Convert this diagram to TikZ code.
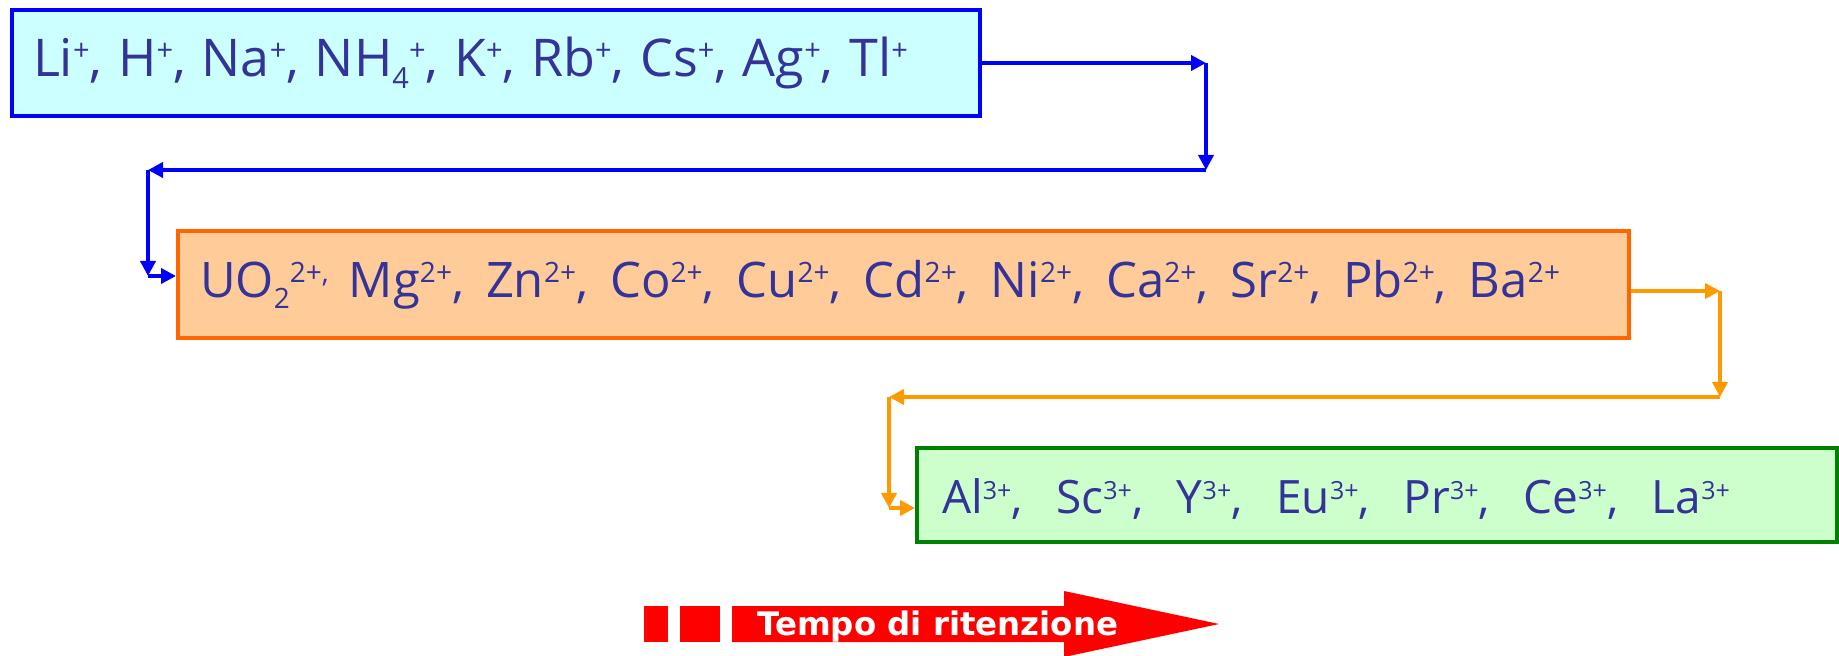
\documentclass[tikz,border=0pt]{standalone}
\usepackage{fontspec}
\setmainfont{Open Sans}
\newfontfamily\tempofont{DejaVu Sans}
\usetikzlibrary{arrows.meta}
\definecolor{txtblue}{HTML}{333399}
\definecolor{lineblue}{HTML}{0000FF}
\definecolor{fillcyan}{HTML}{CCFFFF}
\definecolor{orangeborder}{HTML}{FF6600}
\definecolor{orangefill}{HTML}{FFCC99}
\definecolor{orangeline}{HTML}{FF9900}
\definecolor{greenborder}{HTML}{008000}
\definecolor{greenfill}{HTML}{CCFFCC}
\definecolor{redarrow}{HTML}{FF0000}
\def\supsz{13}\def\suprise{7.8pt}\def\subsz{14}\def\subdrop{-5.5pt}
\newcommand{\sps}[1]{\raisebox{\suprise}{\fontsize{\supsz}{\supsz}\selectfont #1}}
\newcommand{\sbs}[1]{\raisebox{\subdrop}{\fontsize{\subsz}{\subsz}\selectfont #1}}
% content: box width, text width, height, depth, text
\newcommand{\iontext}[5]{\makebox[#1][l]{\raisebox{0pt}[#3][#4]{\makebox[#2][s]{#5}}}}
\begin{document}
\begin{tikzpicture}[x=0.5pt,y=-0.5pt,
  ionbox/.style={draw, line width=2pt, rectangle, text=txtblue, inner ysep=0pt},
  link/.style={line width=2.2pt, -{Triangle[length=7.5pt,width=7.5pt]}},
]
\useasboundingbox (0,0) rectangle (1839,656);

\node[ionbox, draw=lineblue, fill=fillcyan, minimum width=484pt, minimum height=53pt,
  inner xsep=10.5pt,
  font=\fontsize{26}{30}\selectfont\def\supsz{14.5}\def\suprise{7.8pt}\def\subsz{14.5}\def\subdrop{-5.8pt}] (b1) at (496,63)
  {\iontext{463pt}{437.5pt}{20pt}{6.5pt}{Li\sps{+}, H\sps{+}, Na\sps{+}, NH\sbs{4}\sps{+}, K\sps{+}, Rb\sps{+}, Cs\sps{+}, Ag\sps{+}, Tl\sps{+}}};

\node[ionbox, draw=orangeborder, fill=orangefill, minimum width=725.5pt, minimum height=53.5pt,
  inner xsep=11pt,
  font=\fontsize{24.5}{29}\selectfont\def\supsz{14}\def\suprise{7.5pt}\def\subsz{14}\def\subdrop{-5.5pt}] (b2) at (903.5,284.5)
  {\iontext{703.5pt}{680pt}{20pt}{6.5pt}{UO\sbs{2}\sps{2+,} Mg\sps{2+}, Zn\sps{2+}, Co\sps{2+}, Cu\sps{2+}, Cd\sps{2+}, Ni\sps{2+}, Ca\sps{2+}, Sr\sps{2+}, Pb\sps{2+}, Ba\sps{2+}}};

\node[ionbox, draw=greenborder, fill=greenfill, minimum width=460pt, minimum height=47pt,
  inner xsep=12.5pt,
  font=\fontsize{23}{28}\selectfont\def\supsz{12.5}\def\suprise{7pt}] (b3) at (1377,495)
  {\iontext{435pt}{394pt}{22pt}{3pt}{Al\sps{3+}, Sc\sps{3+}, Y\sps{3+}, Eu\sps{3+}, Pr\sps{3+}, Ce\sps{3+}, La\sps{3+}}};

% blue connectors
\coordinate (c1) at (1206,63);
\coordinate (c2) at (1206,170);
\coordinate (c3) at (148,170);
\coordinate (c4) at (148,276);
\draw[link, lineblue] (b1.east |- c1) -- (c1);
\draw[link, lineblue] (c1) -- (c2);
\draw[link, lineblue] (c2) -- (c3);
\draw[link, lineblue] (c3) -- (c4);
\draw[link, lineblue] (c4) -- (b2.west |- c4);

% orange connectors
\coordinate (o1) at (1720,291);
\coordinate (o2) at (1720,397);
\coordinate (o3) at (889,397);
\coordinate (o4) at (889,508);
\draw[link, orangeline] (b2.east |- o1) -- (o1);
\draw[link, orangeline] (o1) -- (o2);
\draw[link, orangeline] (o2) -- (o3);
\draw[link, orangeline] (o3) -- (o4);
\draw[link, orangeline] (o4) -- (b3.west |- o4);

% time arrow
\fill[redarrow] (644,606) rectangle (668,642);
\fill[redarrow] (680,606) rectangle (720,642);
\fill[redarrow] (732,606) -- (1064,606) -- (1064,591) -- (1219,624) -- (1064,657)
  -- (1064,642) -- (732,642) -- cycle;
\node[anchor=base west, inner sep=0pt, text=white,
  font=\tempofont\bfseries\fontsize{16.2}{19}\selectfont] (tr) at (757,635)
  {Tempo di ritenzione};
\end{tikzpicture}
\end{document}
